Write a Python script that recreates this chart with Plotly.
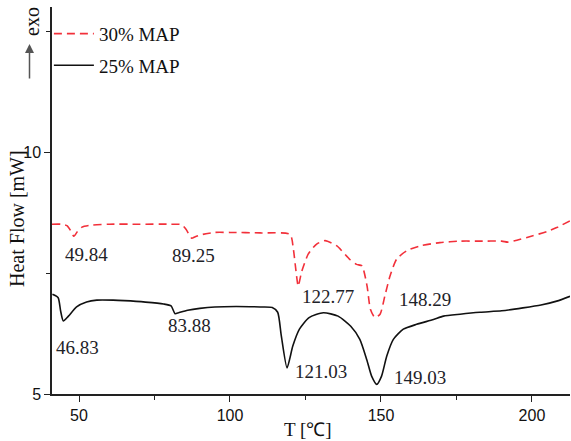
import plotly.graph_objects as go

# 30% MAP (red dashed)
t_30 = [41.06, 44, 46, 47.5, 48.3, 49.5, 51, 54, 60, 70, 80, 84, 85.5, 87.3, 88.5, 91, 95,
        100, 110, 119.9, 121, 121.9, 122.6, 123.7, 125.9, 128.7, 131.5, 135.4, 139.7, 141.9,
        143.7, 145.4, 146.5, 148.0, 149.7, 151.3, 153.0, 155.2, 158.5, 162.9, 169.5, 176.2,
        183, 190, 192, 195, 200.3, 205, 208.2, 212.6]
hf_30 = [8.51, 8.51, 8.48, 8.35, 8.26, 8.36, 8.45, 8.49, 8.51, 8.51, 8.51, 8.50, 8.40, 8.22,
         8.25, 8.30, 8.34, 8.34, 8.33, 8.30, 7.99, 7.52, 7.23, 7.52, 7.89, 8.10, 8.17, 8.06,
         7.78, 7.68, 7.65, 7.23, 6.75, 6.58, 6.65, 7.03, 7.44, 7.79, 7.96, 8.06, 8.13, 8.16,
         8.16, 8.16, 8.14, 8.18, 8.27, 8.36, 8.44, 8.58]

# 25% MAP (black solid)
t_25 = [41.2, 43.1, 43.9, 44.8, 46.5, 49.2, 52.5, 55.9, 61.3, 65, 72, 78, 80.5, 81.8, 83, 86,
        90, 95, 102, 110, 114, 115.8, 117, 118.9, 120.8, 123, 126.2, 130.9, 135.8, 140, 143,
        145.3, 146.9, 148.6, 150.2, 151.9, 154.1, 157.4, 161.8, 167.4, 170.7, 176.2, 182.8,
        190, 197, 203, 208.2, 212.6]
hf_25 = [7.06, 6.99, 6.72, 6.51, 6.61, 6.80, 6.90, 6.94, 6.94, 6.93, 6.90, 6.86, 6.82, 6.66,
         6.68, 6.73, 6.77, 6.80, 6.81, 6.80, 6.79, 6.69, 6.20, 5.54, 5.99, 6.34, 6.58, 6.68,
         6.61, 6.40, 6.13, 5.71, 5.37, 5.20, 5.37, 5.78, 6.13, 6.34, 6.44, 6.54, 6.61, 6.65,
         6.69, 6.72, 6.78, 6.84, 6.92, 7.02]

series_names = ["30% MAP", "25% MAP"]

# peak labels: (text, x, y)
peak_labels = ["49.84", "89.25", "122.77", "148.29", "46.83", "83.88", "121.03", "149.03"]
peak_x = [44.7, 80.1, 123.2, 155.3, 41.7, 78.8, 120.9, 153.6]
peak_y = [7.89, 7.87, 7.01, 6.96, 5.97, 6.41, 5.46, 5.35]

x_ticks = [50, 100, 150, 200]
y_ticks = [5, 10]

SERIF = "Liberation Serif, Times New Roman, serif"
SANS = "Liberation Sans, Arial, sans-serif"

W, H = 571, 441
pl, pr, pt, pb = 52, 1, 7, 47
pw, ph = W - pl - pr, H - pt - pb


def px2paper(px, py):
    return (px - pl) / pw, 1 - (py - pt) / ph


fig = go.Figure()
fig.add_trace(go.Scatter(
    x=t_30, y=hf_30, mode="lines", name=series_names[0], legendgroup="a",
    line=dict(color="#f2303a", width=1.6, dash="8px,5px", shape="spline", smoothing=0.6),
))
fig.add_trace(go.Scatter(
    x=t_25, y=hf_25, mode="lines", name=series_names[1], legendgroup="b",
    line=dict(color="#111111", width=1.6, shape="spline", smoothing=0.6),
))

for txt, px, py in zip(peak_labels, peak_x, peak_y):
    fig.add_annotation(x=px, y=py, xref="x", yref="y", text=txt, showarrow=False,
                       xanchor="left", yanchor="middle",
                       font=dict(family=SERIF, size=19, color="#1e2228"))

ax_, ay_ = px2paper(17, 219)
fig.add_annotation(x=ax_, y=ay_, xref="paper", yref="paper", text="Heat Flow [mW]",
                   showarrow=False, textangle=-90, xanchor="center", yanchor="middle",
                   font=dict(family=SERIF, size=20, color="#111"))
ax_, ay_ = px2paper(308, 429)
fig.add_annotation(x=ax_, y=ay_, xref="paper", yref="paper", text="T [℃]",
                   showarrow=False, xanchor="center", yanchor="middle",
                   font=dict(family=SERIF, size=19, color="#111"))
ax_, ay_ = px2paper(32, 22)
fig.add_annotation(x=ax_, y=ay_, xref="paper", yref="paper", text="exo",
                   showarrow=False, textangle=-90, xanchor="center", yanchor="middle",
                   font=dict(family=SERIF, size=20, color="#111"))
ax_, ay_ = px2paper(29.5, 44)
fig.add_annotation(x=ax_, y=ay_, xref="paper", yref="paper", ax=0, ay=36,
                   axref="pixel", ayref="pixel",
                   text="", showarrow=True, arrowhead=2, arrowsize=1.2, arrowwidth=1.5,
                   arrowcolor="#555")

fig.update_layout(
    width=W, height=H,
    margin=dict(l=pl, r=pr, t=pt, b=pb),
    paper_bgcolor="white", plot_bgcolor="white",
    showlegend=True,
    legend=dict(x=-0.006, y=0.98, xanchor="left", yanchor="top", bgcolor="rgba(0,0,0,0)",
                font=dict(family=SERIF, size=19, color="#111"), tracegroupgap=4,
                itemwidth=40),
    xaxis=dict(range=[41.06, 212.6], tickvals=x_ticks, ticks="outside", ticklen=6,
               tickwidth=1.3, tickcolor="#222", showline=True, linecolor="#222", linewidth=1.5,
               showgrid=False, zeroline=False,
               tickfont=dict(family=SANS, size=16, color="#111"),
               minor=dict(dtick=25, tick0=0, ticks="outside", ticklen=4, tickcolor="#222",
                          showgrid=False)),
    yaxis=dict(range=[5, 13.0], tickvals=y_ticks, ticks="outside", ticklen=6,
               tickwidth=1.3, tickcolor="#222", showline=True, linecolor="#222", linewidth=1.5,
               showgrid=False, zeroline=False,
               tickfont=dict(family=SANS, size=16, color="#111"),
               minor=dict(dtick=2.5, tick0=0, ticks="outside", ticklen=4, tickcolor="#222",
                          showgrid=False)),
)

fig.write_html("out.html", config={"displayModeBar": False},
               post_script="document.body.style.margin='0';document.body.style.padding='0';")
